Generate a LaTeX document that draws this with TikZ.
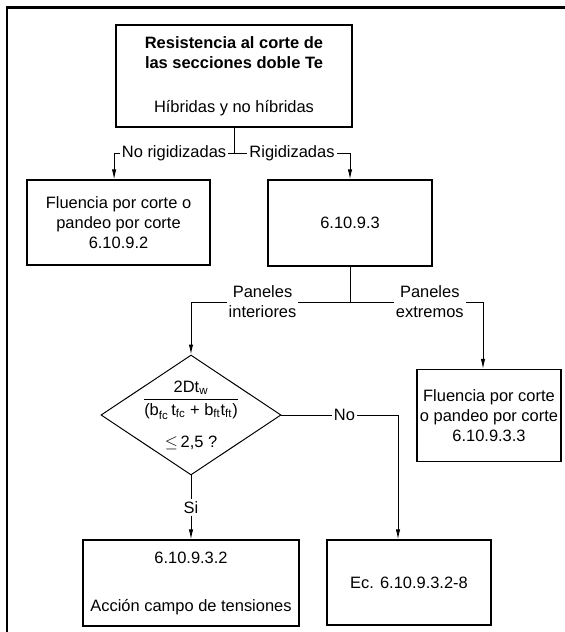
\documentclass[tikz,border=0pt]{standalone}
\usepackage{amsmath}
\usepackage{fontspec}
\setmainfont{Liberation Sans}
\usepackage{tikz}
\usetikzlibrary{arrows.meta, shapes.geometric}
\tikzset{
    box/.style={draw, line width=0.8pt, align=center, inner sep=2pt},
    cond/.style={draw, diamond, line width=0.7pt, inner sep=0pt, minimum width=4.5cm, minimum height=3cm},
    lab/.style={fill=white, inner sep=1.5pt, align=center},
    link/.style={line width=0.7pt},
    arr/.style={line width=0.7pt, -{Latex[length=2.5mm, width=1.1mm]}},
    frame/.style={line width=1.6pt}
}

\begin{document}
\begin{tikzpicture}[font=\fontsize{11.7}{14.2}\selectfont]
          \useasboundingbox (0,0) rectangle (14.125,-15.8);
          \draw [frame] (0.175,-15.8) -- (0.175,-0.19) -- (14.125,-0.19);
          \node [box, minimum width=5.9cm, minimum height=2.55cm] (top) at (5.85,-1.9)
            {\textbf{Resistencia al corte de}\\\textbf{las secciones doble Te}\\[0.6cm]Híbridas y no híbridas};
          \node [box, minimum width=4.575cm, minimum height=2.125cm] (plain) at (2.9625,-5.5625)
            {Fluencia por corte o\\pandeo por corte\\6.10.9.2};
          \node [box, minimum width=4.1cm, minimum height=2.15cm] (stiff) at (8.75,-5.575) {6.10.9.3};
          \node [cond] (ratio) at (4.775,-10.375) {};
          \node (frac) at ([yshift=0.375cm]ratio.center)
            {$\dfrac{\text{2Dt}_{\text{w}}}{\text{(b}_{\text{fc}}\,\text{t}_{\text{fc}}\text{ + b}_{\text{ft}}\text{t}_{\text{ft}}\text{)}}$};
          \node (limit) at ([yshift=-0.7cm]ratio.center) {$\leq$\,2,5 ?};
          \node [box, minimum width=3.6cm, minimum height=2.3cm] (ends) at (12.225,-10.3875)
            {Fluencia por corte\\o pandeo por corte\\6.10.9.3.3};
          \node [box, minimum width=5.4cm, minimum height=2.15cm] (tension) at (4.775,-14.575)
            {6.10.9.3.2\\[0.7cm]Acción campo de tensiones};
          \node [box, minimum width=4.1cm, minimum height=2.125cm] (eqn) at (10.225,-14.5625)
            {Ec. 6.10.9.3.2-8};
          \coordinate (j1) at (5.85,-3.825);
          \coordinate (j2) at (8.75,-7.55);
          \draw [link] (top.south) -- (j1);
          \draw [arr] (j1) -| node [lab, pos=0.25] {No rigidizadas} ([xshift=-1.1mm]plain.north);
          \draw [arr] (j1) -| node [lab, pos=0.25] {Rigidizadas} (stiff.north);
          \draw [link] (stiff.south) -- (j2);
          \draw [arr] (j2) -| node [lab, pos=0.275] {Paneles\\interiores} (ratio.north);
          \draw [arr] (j2) -| node [lab, pos=0.3] {Paneles\\extremos} ([xshift=-1.5mm]ends.north);
          \draw [arr] (ratio.south) -- node [lab] {Si} (tension.north);
          \draw [arr] (ratio.east) -| node [lab, pos=0.27] {No} ([xshift=-2.75mm]eqn.north);
\end{tikzpicture}
\end{document}
